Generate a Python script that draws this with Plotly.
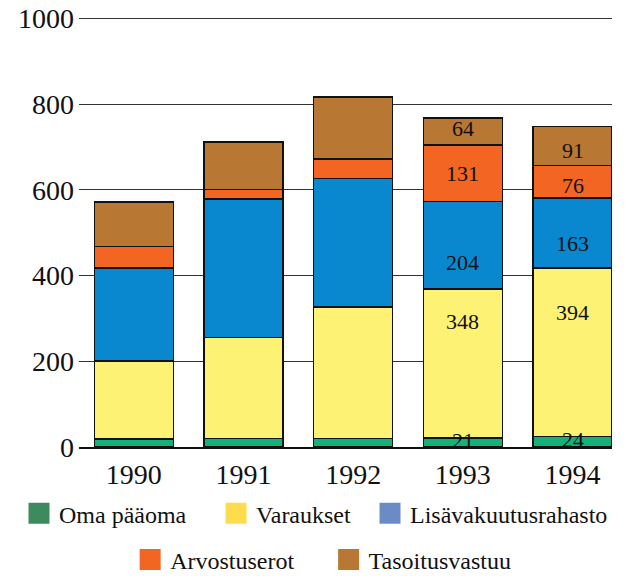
import plotly.graph_objects as go

years = ['1990', '1991', '1992', '1993', '1994']
oma_paaoma = [19, 20, 20, 21, 24]
varaukset = [182, 235, 307, 348, 394]
lisavakuutus = [217, 324, 299, 204, 163]
arvostuserot = [50, 22, 46, 131, 76]
tasoitusvastuu = [103, 110, 144, 64, 91]
labelled_years = ['1993', '1994']

series_names = ['Oma pääoma', 'Varaukset', 'Lisävakuutusrahasto', 'Arvostuserot', 'Tasoitusvastuu']
series_values = [oma_paaoma, varaukset, lisavakuutus, arvostuserot, tasoitusvastuu]
bar_colors = ['#16b07b', '#fdf273', '#0a88cf', '#f26522', '#b87733']
legend_colors = ['#3e8a5f', '#fddd4e', '#6b8bc6', '#f26522', '#b87733']

y_ticks = [0, 200, 400, 600, 800, 1000]

# styling: vertical nudge (px) of the value labels, per year then per series
label_nudge = {
    '1993': [2, 42, -17, 0, 3],
    '1994': [2, 40, -11, -4, -5],
}
# styling: legend entry placement (container fractions)
legend_places = [(0.0174, 0.122), (0.3292, 0.122), (0.5728, 0.122),
                 (0.1933, 0.042), (0.5073, 0.042)]

SERIF = '"Liberation Serif", "Times New Roman", Times, serif'

fig = go.Figure()

for name, vals, col in zip(series_names, series_values, bar_colors):
    fig.add_trace(go.Bar(
        x=years, y=vals, name=name, showlegend=False,
        marker=dict(color=col, line=dict(color='#111111', width=1.5)),
        width=0.72,
    ))

legend_ids = ['legend', 'legend2', 'legend3', 'legend4', 'legend5']
for name, col, lid in zip(series_names, legend_colors, legend_ids):
    fig.add_trace(go.Scatter(
        x=[years[0]], y=[None], mode='markers', name=name,
        marker=dict(symbol='square', size=16, color=col, line=dict(width=5, color=col)),
        legend=lid, hoverinfo='skip',
    ))

annotations = []
for j, yr in enumerate(years):
    if yr not in labelled_years:
        continue
    base = 0
    for k, vals in enumerate(series_values):
        v = vals[j]
        annotations.append(dict(
            x=j, y=base + v / 2, xref='x', yref='y', text=str(v),
            showarrow=False, yshift=label_nudge[yr][k],
            font=dict(family=SERIF, size=22, color='#111111'),
        ))
        base += v

layout_legends = {}
for lid, (lx, ly) in zip(legend_ids, legend_places):
    layout_legends[lid] = dict(
        orientation='h', xref='container', yref='container',
        x=lx, y=ly, xanchor='left', yanchor='middle',
        font=dict(family=SERIF, size=24, color='#111111'),
        bgcolor='rgba(0,0,0,0)', itemclick=False, itemdoubleclick=False,
        itemwidth=30, borderwidth=0,
    )

fig.update_layout(
    barmode='stack',
    width=632, height=576,
    margin=dict(l=71, r=28, t=9, b=137, autoexpand=False),
    paper_bgcolor='white', plot_bgcolor='white',
    font=dict(family=SERIF, color='#111111'),
    annotations=annotations,
    showlegend=True,
    xaxis=dict(
        type='category', categoryorder='array', categoryarray=years,
        range=[-0.5, 4.36], automargin=False,
        showline=True, linecolor='#111111', linewidth=1.5,
        ticks='', showgrid=False,
        tickfont=dict(family=SERIF, size=28, color='#111111'),
        ticklabelstandoff=2,
    ),
    yaxis=dict(
        range=[0, 1003], tickvals=y_ticks, automargin=False,
        showgrid=True, gridcolor='#333333', gridwidth=1.3,
        zeroline=False, showline=False, ticks='',
        tickfont=dict(family=SERIF, size=28, color='#111111'),
        ticklabelstandoff=4, ticklabeloverflow='allow',
    ),
    **layout_legends,
)

fig.write_html('out.html')
